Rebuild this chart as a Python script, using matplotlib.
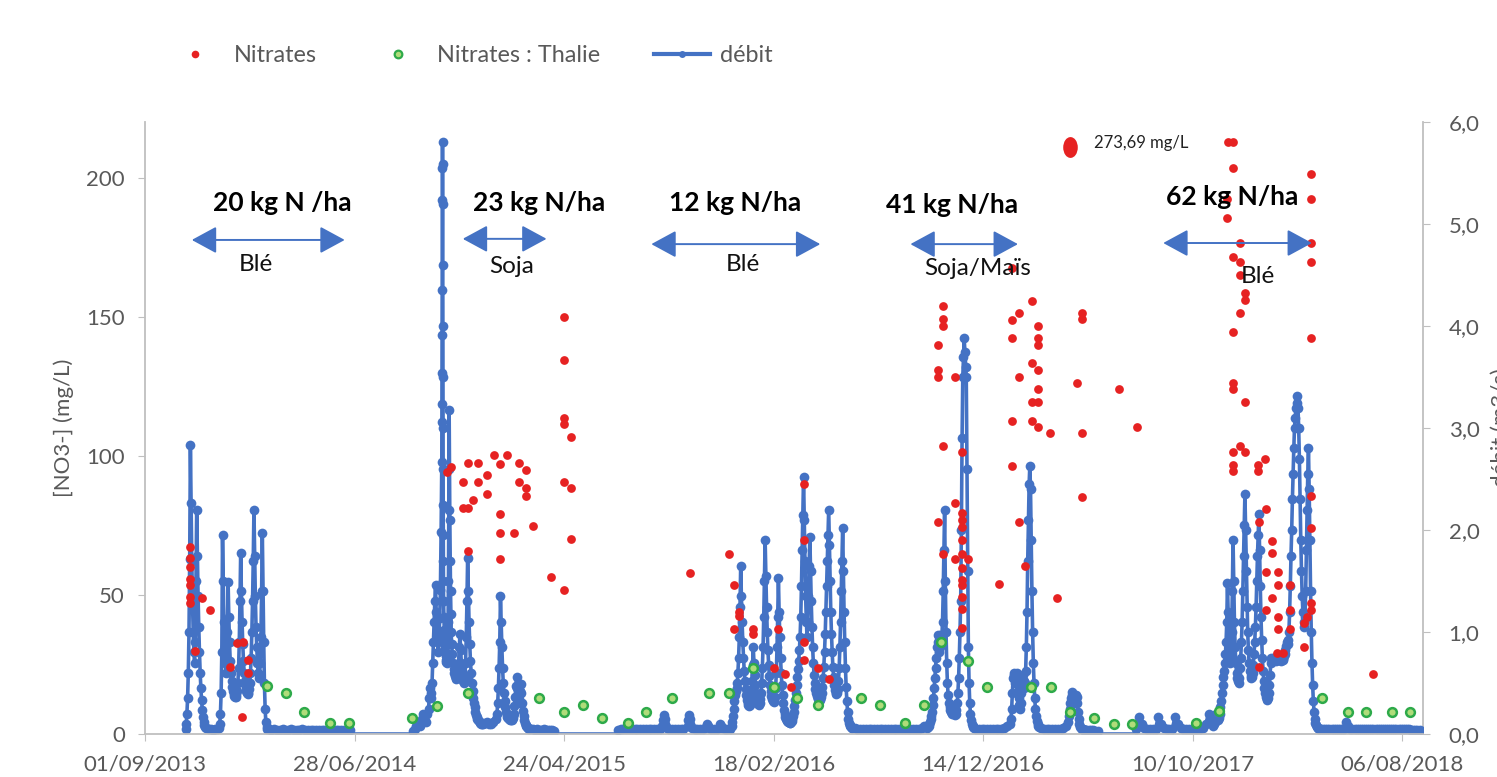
import matplotlib
matplotlib.use("Agg")
import matplotlib.pyplot as plt
import matplotlib.dates as mdates
from matplotlib.lines import Line2D
from matplotlib.path import Path
from matplotlib.transforms import Affine2D
from matplotlib.ticker import FuncFormatter
import numpy as np
import pandas as pd

plt.rcParams['font.family'] = ['Lato', 'DejaVu Sans']

# ---------------- data ----------------
# débit (m3/s): segments of (start, step in hours, values)
debit_segments = [
    ("2013-10-29", 24, [0.05, 0.1, 0.2, 0.35, 0.6, 1.0, 1.72, 2.83, 2.26, 1.7, 1.3, 1.0, 0.8, 0.7, 0.9,
                        1.5, 2.2, 1.75, 1.35, 1.05, 0.8, 0.6, 0.45, 0.33, 0.24, 0.17, 0.12, 0.09, 0.07]),
    ("2013-11-28", 72, [0.06, 0.05, 0.05, 0.04, 0.05, 0.05, 0.06]),
    ("2013-12-17", 24, [0.1, 0.2, 0.4, 0.8, 1.95, 1.5, 1.1, 0.85, 0.7, 0.6, 0.7, 1.0, 1.49, 1.15, 0.9, 0.72,
                        0.6, 0.52, 0.46, 0.42, 0.39, 0.37, 0.36, 0.36, 0.38, 0.42, 0.5, 0.65, 0.9, 1.3, 1.77,
                        1.4, 1.1, 0.88, 0.72, 0.6, 0.52, 0.46, 0.42, 0.4, 0.39, 0.4, 0.44, 0.5, 0.6, 0.75,
                        1.0, 1.3, 1.7, 2.2, 1.75, 1.35, 1.05, 0.85, 0.7, 0.6, 0.55, 0.58, 0.7, 0.95, 1.4,
                        1.97, 1.4, 0.9, 0.5, 0.25, 0.12, 0.07, 0.05]),
    ("2014-02-25", 96, [0.05, 0.04, 0.05, 0.04, 0.04, 0.05, 0.04, 0.04, 0.05, 0.04, 0.04, 0.04, 0.05, 0.04,
                        0.04, 0.04, 0.04, 0.04, 0.04, 0.04, 0.04, 0.04, 0.04, 0.04, 0.04, 0.04, 0.04, 0.04,
                        0.04, 0.04]),
    ("2014-06-24", 2088, [0.0, 0.0]),
    ("2014-09-20", 48, [0.03, 0.05, 0.08, 0.12, 0.1, 0.08, 0.15, 0.2, 0.16, 0.12, 0.2]),
    ("2014-10-12", 24, [0.25, 0.35, 0.45, 0.4, 0.35, 0.5, 0.7, 0.9, 1.1, 1.3, 1.46, 1.2, 1.0, 0.9, 0.8,
                        0.95, 1.14, 1.41, 1.98]),
    ("2014-10-31", 3, [2.67, 3.06, 3.24, 3.54, 3.91, 4.35, 5.24, 5.55, 5.8, 5.59, 5.2, 4.6, 4.0, 3.5, 3.0,
                       2.6, 2.25, 1.95, 1.7, 1.5]),
    ("2014-11-02 12:00", 12, [1.3, 1.15, 1.02, 0.92, 0.85, 0.8, 0.76, 0.73, 0.71, 0.7, 0.72, 0.78, 0.9, 1.1,
                              1.5, 2.2, 3.18, 2.6, 2.1, 1.7, 1.4, 1.18, 1.0, 0.88]),
    ("2014-11-15", 24, [0.78, 0.7, 0.64, 0.6, 0.57, 0.55, 0.54, 0.55, 0.6, 0.7, 0.85, 0.98, 0.82, 0.7, 0.62,
                        0.56, 0.52, 0.5, 0.55, 0.7, 0.95, 1.3, 1.73, 1.4, 1.1, 0.88, 0.72, 0.6, 0.5, 0.42,
                        0.35, 0.3, 0.26, 0.22, 0.19, 0.17, 0.15, 0.14, 0.13, 0.12, 0.11, 0.1, 0.1]),
    ("2014-12-29", 72, [0.1, 0.11, 0.12, 0.1, 0.1, 0.12, 0.15]),
    ("2015-01-18", 24, [0.2, 0.3, 0.45, 0.65, 0.9, 1.35, 1.1, 0.85, 0.65, 0.5, 0.4, 0.32, 0.26, 0.22, 0.19,
                        0.17, 0.16, 0.15, 0.15, 0.14, 0.14, 0.14, 0.15, 0.16, 0.2, 0.27, 0.36, 0.47, 0.56,
                        0.45, 0.36, 0.3, 0.34, 0.42, 0.49, 0.4, 0.3, 0.23, 0.18, 0.14, 0.11, 0.09, 0.08,
                        0.07, 0.06, 0.06, 0.05]),
    ("2015-03-08", 72, [0.05, 0.05, 0.04, 0.05, 0.04, 0.04, 0.05, 0.04, 0.04, 0.04, 0.04, 0.03]),
    ("2015-04-14", 2064, [0.0, 0.0]),
    ("2015-07-10", 96, [0.04, 0.05, 0.05, 0.05, 0.05, 0.05, 0.05, 0.05, 0.05, 0.05, 0.05, 0.05, 0.05, 0.05,
                        0.05, 0.05]),
    ("2015-09-12", 24, [0.08, 0.14, 0.19, 0.15, 0.1, 0.07, 0.06]),
    ("2015-09-22", 96, [0.05, 0.05, 0.05, 0.05, 0.05, 0.05]),
    ("2015-10-18", 24, [0.08, 0.14, 0.19, 0.15, 0.1, 0.07, 0.06]),
    ("2015-10-28", 96, [0.05, 0.05, 0.05, 0.05]),
    ("2015-11-14", 24, [0.07, 0.1, 0.08, 0.06]),
    ("2015-11-21", 96, [0.05, 0.05, 0.05]),
    ("2015-12-03", 24, [0.07, 0.1, 0.08, 0.06]),
    ("2015-12-10", 96, [0.05, 0.05, 0.05]),
    ("2015-12-20", 24, [0.08, 0.12, 0.18, 0.25, 0.32, 0.38, 0.42, 0.45, 0.5, 0.6, 0.75, 0.95, 1.25, 1.65,
                        1.35, 1.1, 0.9, 0.75, 0.62, 0.52, 0.44, 0.38, 0.33, 0.3, 0.28, 0.27, 0.28, 0.32, 0.4,
                        0.52, 0.68, 0.85, 0.7, 0.58, 0.48, 0.4, 0.35, 0.31, 0.29, 0.28, 0.3, 0.34, 0.4, 0.5,
                        0.65, 0.85, 1.15, 1.5, 1.9, 1.55, 1.25, 1.0, 0.82, 0.68, 0.57, 0.48, 0.42, 0.37,
                        0.34, 0.32, 0.31, 0.32, 0.36, 0.45, 0.6, 0.85, 1.15, 1.53, 1.2, 0.95, 0.75, 0.6,
                        0.48, 0.38, 0.3, 0.24, 0.2, 0.17, 0.15, 0.14, 0.13, 0.12, 0.12, 0.11, 0.11, 0.12,
                        0.13, 0.15, 0.18, 0.22, 0.27, 0.33, 0.4, 0.48, 0.56, 0.64, 0.72, 0.82, 0.95, 1.15,
                        1.45, 1.8, 2.15, 2.52, 2.1, 1.7, 1.35, 1.1, 0.95, 1.1, 1.35, 1.65, 1.93, 1.6, 1.3,
                        1.05, 0.85, 0.7, 0.58, 0.5, 0.44, 0.4, 0.37, 0.35, 0.34, 0.33, 0.33, 0.34, 0.36,
                        0.4, 0.46, 0.55, 0.66, 0.8, 0.98, 1.2, 1.45, 1.7, 1.95, 2.2, 1.85, 1.5, 1.2, 0.98,
                        0.8, 0.66, 0.56, 0.48, 0.43, 0.4, 0.39, 0.4, 0.44, 0.52, 0.65, 0.85, 1.1, 1.4, 1.7,
                        2.02, 1.6, 1.2, 0.9, 0.65, 0.46, 0.32, 0.22, 0.15, 0.11, 0.09, 0.08, 0.07, 0.06,
                        0.06]),
    ("2016-06-13", 96, [0.06, 0.05, 0.05, 0.05, 0.05, 0.05, 0.05, 0.05, 0.05, 0.05, 0.05, 0.05, 0.05, 0.05,
                        0.05, 0.05, 0.05, 0.05, 0.05, 0.05, 0.05, 0.05, 0.05, 0.05, 0.06, 0.08]),
    ("2016-09-25", 24, [0.06, 0.07, 0.08, 0.1, 0.12, 0.15, 0.18, 0.22, 0.28, 0.35, 0.45, 0.55, 0.65, 0.75,
                        0.85, 0.97, 0.9, 0.8, 0.85, 0.97, 0.9, 0.95, 1.1, 1.4, 1.8, 2.2, 1.5, 1.0, 0.7, 0.5,
                        0.38, 0.3, 0.26, 0.24, 0.22, 0.2, 0.22, 0.24, 0.22, 0.2, 0.19, 0.2, 0.24, 0.3, 0.4,
                        0.55, 0.75, 1.0, 1.3, 2.0, 2.9, 3.5, 3.7, 3.88, 3.75, 3.6, 3.5, 2.6, 1.6, 0.85, 0.5,
                        0.3, 0.2, 0.14, 0.1, 0.08, 0.07, 0.06]),
    ("2016-12-04", 96, [0.05, 0.05, 0.05, 0.05, 0.05, 0.05, 0.05, 0.05, 0.05, 0.05, 0.06, 0.08, 0.1]),
    ("2017-01-23", 24, [0.15, 0.25, 0.4, 0.55, 0.6, 0.58, 0.5, 0.55, 0.6, 0.52, 0.42, 0.35, 0.28, 0.25, 0.3,
                        0.4, 0.5, 0.58, 0.52, 0.45, 0.5, 0.62, 0.85, 1.2, 1.7, 2.1, 2.45, 2.63, 2.4, 1.9,
                        1.4, 1.0, 0.7, 0.5, 0.35, 0.25, 0.18, 0.13, 0.1, 0.08, 0.07]),
    ("2017-03-07", 96, [0.06, 0.05, 0.05, 0.05, 0.05, 0.05, 0.05, 0.05, 0.06, 0.08]),
    ("2017-04-15", 24, [0.12, 0.18, 0.25, 0.3, 0.35, 0.38, 0.41, 0.38, 0.33, 0.3, 0.34, 0.38, 0.36, 0.3,
                        0.22, 0.15, 0.1, 0.07, 0.06, 0.05, 0.05, 0.05, 0.04, 0.04, 0.04, 0.04, 0.04, 0.03]),
    ("2017-05-15", 72, [0.04, 0.04, 0.04, 0.03, 0.03]),
    ("2017-05-29", 1224, [0.0, 0.0]),
    ("2017-07-21", 96, [0.05, 0.17, 0.1, 0.06, 0.05, 0.05, 0.05, 0.05, 0.17, 0.1, 0.06, 0.05, 0.05, 0.05,
                        0.17, 0.1, 0.06, 0.05, 0.05, 0.05, 0.05, 0.05, 0.05, 0.05, 0.06, 0.1, 0.2, 0.15]),
    ("2017-11-09", 24, [0.08, 0.1, 0.12, 0.15, 0.2, 0.18, 0.15, 0.14, 0.16, 0.2, 0.26, 0.32, 0.4, 0.48,
                        0.56, 0.62, 0.7, 0.78, 0.9, 1.1, 1.48, 1.2, 0.9, 0.75, 0.7, 0.8, 1.0, 1.4, 1.9, 1.5,
                        1.1, 0.85, 0.7, 0.6, 0.55, 0.52, 0.5, 0.55, 0.65, 0.75, 0.9, 1.1, 1.4, 1.75, 2.05,
                        2.35, 2.0, 1.6, 1.25, 1.0, 0.82, 0.7, 0.62, 0.57, 0.55, 0.56, 0.6, 0.68, 0.78, 0.9,
                        1.05, 1.25, 1.5, 1.75, 1.95, 2.16, 1.8, 1.45, 1.15, 0.92, 0.75, 0.62, 0.52, 0.45,
                        0.4, 0.36, 0.34, 0.33, 0.35, 0.4, 0.48, 0.58, 0.7, 0.75, 0.74, 0.75, 0.73, 0.75,
                        0.74, 0.72, 0.75, 0.74, 0.75, 0.73, 0.74, 0.75, 0.72, 0.74, 0.75, 0.73, 0.74, 0.76,
                        0.78, 0.82, 0.86, 0.9, 0.88, 0.92, 1.0, 1.2, 1.45, 1.75, 2.0, 2.3, 2.55, 2.8, 3.0,
                        3.1, 3.2, 3.25, 3.31, 3.2, 3.0, 2.7, 2.3, 1.9, 1.6, 1.35, 1.2, 1.1, 1.05, 1.15, 1.4,
                        1.8, 2.2, 2.55, 2.8, 2.4, 1.9, 1.4, 1.0, 0.7, 0.48, 0.32, 0.22, 0.15, 0.11, 0.09,
                        0.07, 0.06, 0.06, 0.05]),
    ("2018-04-12", 72, [0.05, 0.05, 0.05, 0.05, 0.05, 0.05, 0.05, 0.05, 0.05, 0.05, 0.05, 0.05, 0.12, 0.08,
                        0.05, 0.05, 0.05, 0.05, 0.05, 0.05, 0.05, 0.05, 0.05, 0.05, 0.05, 0.05, 0.05, 0.05,
                        0.05, 0.05, 0.05, 0.05, 0.05, 0.05, 0.05, 0.05, 0.05, 0.05, 0.05, 0.05, 0.05, 0.05,
                        0.05, 0.04, 0.04, 0.04, 0.04, 0.04]),
]

# nitrates (mg/L), several samples can share a date
nitrate_dates = ["2013-11-05", "2013-11-12", "2013-11-22", "2013-12-03", "2013-12-31", "2014-01-11",
                 "2014-01-18", "2014-01-19", "2014-01-26",
                 "2014-11-08", "2014-11-13", "2014-11-30", "2014-12-08", "2014-12-15", "2014-12-22",
                 "2015-01-04", "2015-01-14", "2015-01-23", "2015-02-01", "2015-02-11", "2015-02-18",
                 "2015-02-28", "2015-03-10", "2015-04-05", "2015-04-24", "2015-05-04",
                 "2015-10-21", "2015-12-16", "2015-12-23", "2015-12-31", "2016-01-19", "2016-02-18",
                 "2016-02-25", "2016-03-06", "2016-03-14", "2016-04-01", "2016-04-21", "2016-05-07",
                 "2016-10-10", "2016-10-17", "2016-11-04", "2016-11-14", "2016-11-23", "2017-01-06",
                 "2017-01-24", "2017-02-03", "2017-02-12", "2017-02-22", "2017-03-02", "2017-03-20",
                 "2017-03-30", "2017-04-27", "2017-05-04", "2017-06-27", "2017-07-22",
                 "2017-11-29", "2017-11-30", "2017-12-07", "2017-12-17", "2017-12-24", "2018-01-12",
                 "2018-01-13", "2018-01-22", "2018-01-23", "2018-02-01", "2018-02-08", "2018-02-10",
                 "2018-02-17", "2018-02-27", "2018-03-18", "2018-03-23", "2018-03-28", "2018-06-26"]
nitrate_values = [[67.2, 63.3, 60.0, 55.7, 53.6, 49.2, 47.0], [30.0], [49.0], [44.6], [24.0], [32.7],
                  [6.0], [33.0], [26.6, 22.0],
                  [94.2], [96.0], [90.6, 81.2], [97.4, 81.2, 65.8], [84.0], [97.4, 90.6],
                  [93.0, 86.3], [100.3], [97.0, 79.0, 72.3, 63.0], [100.3], [72.3], [97.4, 90.6],
                  [95.0, 88.4, 85.5], [74.8], [56.4], [150.0, 134.4, 113.6, 111.4, 90.6, 51.8],
                  [106.8, 88.4, 70.0],
                  [57.9], [64.7], [53.6, 37.7], [43.9, 42.5], [37.7, 36.0], [23.7],
                  [37.7], [21.6], [17.0], [89.9, 69.7, 33.0, 26.6], [23.7], [19.8],
                  [139.8, 130.8, 128.3, 76.2], [153.8, 149.2, 146.7, 103.5, 64.7], [128.3, 83.0, 63.0],
                  [101.4, 79.4, 77.0, 74.5, 69.7, 64.7, 59.7, 55.4, 53.6, 49.2, 45.0, 38.1], [63.0], [54.0],
                  [167.5, 148.8, 142.3, 112.5, 96.3], [151.3, 128.3, 76.2], [60.4],
                  [155.6, 133.4, 119.3, 112.5], [146.7, 142.3, 139.8, 130.8, 124.0, 119.3, 110.4], [108.2],
                  [48.9], [126.2], [151.3, 149.2, 108.2, 85.2], [124.0], [110.4],
                  [192.3, 185.5], [212.8], [212.8, 203.5, 171.5, 144.5, 126.2, 124.0, 101.4, 96.7, 94.5],
                  [176.5, 169.7, 165.0, 151.3, 103.5], [158.5, 156.0, 119.3, 101.4], [96.7, 94.5],
                  [76.2, 24.0], [98.8], [80.9, 58.2, 44.6], [69.4, 65.0, 49.0], [29.0],
                  [58.2, 53.6, 42.0, 37.7],
                  [29.0], [53.6, 44.6, 37.7], [40.0, 31.3], [42.0],
                  [201.3, 192.3, 176.5, 169.7, 142.3, 85.5, 74.0, 47.0, 44.6], [21.6]]

# nitrates, Thalie samples (mg/L)
thalie_dates = ["2014-02-22", "2014-03-22", "2014-04-16", "2014-05-24", "2014-06-20", "2014-09-18",
                "2014-10-24", "2014-12-08", "2015-03-19", "2015-04-24", "2015-05-21", "2015-06-17",
                "2015-07-24", "2015-08-19", "2015-09-25", "2015-11-18", "2015-12-16", "2016-01-20",
                "2016-02-18", "2016-03-23", "2016-04-21", "2016-06-22", "2016-07-19", "2016-08-24",
                "2016-09-20", "2016-10-15", "2016-11-23", "2016-12-20", "2017-02-20", "2017-03-21",
                "2017-04-17", "2017-05-22", "2017-06-19", "2017-07-15", "2017-10-15", "2017-11-17",
                "2018-04-14", "2018-05-20", "2018-06-16", "2018-07-23", "2018-08-18"]
thalie_values = [17.3, 14.8, 7.9, 3.9, 3.9, 5.8, 10.1, 14.7, 12.9, 7.9, 10.4, 5.8, 3.9, 7.9, 12.9,
                 14.7, 14.7, 23.7, 17.0, 12.9, 10.4, 12.9, 10.4, 3.9, 10.4, 33.0, 26.2, 17.0, 17.0,
                 17.0, 7.9, 5.8, 3.6, 3.6, 3.9, 8.3, 12.9, 7.9, 7.9, 7.9, 7.9]

# off-scale sample
outlier_date = "2017-04-18"
outlier_value = 273.69
outlier_shown_at = 211

# fertilisation periods
doses = ["20 kg N /ha", "23 kg N/ha", "12 kg N/ha", "41 kg N/ha", "62 kg N/ha"]
crops = ["Blé", "Soja", "Blé", "Soja/Maïs", "Blé"]
period_start = ["2013-11-07", "2014-11-30", "2015-08-27", "2016-09-01", "2017-08-29"]
period_end = ["2014-06-14", "2015-03-30", "2016-04-25", "2017-02-02", "2018-03-30"]
dose_label_x = ["2014-03-16", "2015-03-20", "2015-12-25", "2016-10-30", "2017-12-06"]
crop_label_x = ["2014-02-07", "2015-02-08", "2016-01-05", "2016-12-07", "2018-01-12"]

tick_dates = ["2013-09-01", "2014-06-28", "2015-04-24", "2016-02-18", "2016-12-14", "2017-10-10",
              "2018-08-06"]

# ---------------- build series ----------------
deb_t, deb_v = [], []
for start, step, values in debit_segments:
    deb_t.extend(pd.date_range(start, periods=len(values), freq=f"{step}h"))
    deb_v.extend(values)
deb_t = pd.DatetimeIndex(deb_t)
deb_v = np.array(deb_v)

nit_t, nit_v = [], []
for d, vals in zip(nitrate_dates, nitrate_values):
    for v in vals:
        nit_t.append(pd.Timestamp(d))
        nit_v.append(v)

RED = '#E62222'
BLUE = '#4472C4'
GREEN_EDGE = '#2EAA4A'
GREEN_FACE = '#B0DC7A'
GREY = '#595959'
AXIS = '#BFBFBF'

# ---------------- plot ----------------
fig = plt.figure(figsize=(14.97, 7.77), dpi=100)
ax = fig.add_axes([145 / 1497, 43 / 777, 1278 / 1497, 612 / 777])
ax2 = ax.twinx()

ax2.plot(deb_t, deb_v, color=BLUE, lw=2.6, zorder=2)
pos = deb_v > 0
ax2.plot(deb_t[pos], deb_v[pos], 'o', ms=7, color=BLUE, mew=0, zorder=3)

ax.plot(nit_t, nit_v, 'o', ms=6.3, color=RED, mew=0, ls='none', zorder=3)
ax.plot(pd.to_datetime(thalie_dates), thalie_values, 'o', ms=6.3, mfc=GREEN_FACE, mec=GREEN_EDGE,
        mew=1.8, ls='none', zorder=4)

# off-scale value
ell = Path.unit_circle().transformed(Affine2D().scale(0.7, 1.0))
ax.plot([pd.Timestamp(outlier_date)], [outlier_shown_at], marker=ell, ms=15, color=RED, mew=0,
        ls='none', clip_on=False, zorder=4)
ax.annotate(f"{outlier_value:.2f}".replace('.', ',') + " mg/L",
            xy=(pd.Timestamp(outlier_date), outlier_shown_at), xytext=(17, 3),
            textcoords='offset points', fontsize=12, color='#222222', va='center', ha='left')

# fertilisation arrows and labels
dose_y = [191, 191, 191, 190, 193]
arrow_y = [177.6, 178, 176.1, 176.1, 176.5]
crop_y = [168.6, 168.2, 168.6, 167.5, 164.6]
for i in range(len(doses)):
    ax.annotate('', xy=(pd.Timestamp(period_end[i]), arrow_y[i]),
                xytext=(pd.Timestamp(period_start[i]), arrow_y[i]),
                arrowprops=dict(arrowstyle='<|-|>,head_length=0.7,head_width=0.38', color=BLUE,
                                lw=1.4, mutation_scale=22, shrinkA=0, shrinkB=0), zorder=5)
    ax.text(pd.Timestamp(dose_label_x[i]), dose_y[i], doses[i], fontsize=19, fontweight='bold',
            ha='center', va='center', color='black', zorder=6)
    ax.text(pd.Timestamp(crop_label_x[i]), crop_y[i], crops[i], fontsize=17.5, ha='center',
            va='center', color='#111111', zorder=6)

# axes
ax.set_xlim(pd.Timestamp("2013-09-01"), pd.Timestamp("2018-09-05"))
ax.set_ylim(0, 220)
ax2.set_ylim(0, 6)
ax.set_yticks([0, 50, 100, 150, 200])
ax2.set_yticks([0, 1, 2, 3, 4, 5, 6])
ax2.yaxis.set_major_formatter(FuncFormatter(lambda v, p: f"{v:.1f}".replace('.', ',')))
ax.set_xticks(pd.to_datetime(tick_dates))
ax.xaxis.set_major_formatter(mdates.DateFormatter('%d/%m/%Y'))

ax.set_zorder(ax2.get_zorder() + 1)
ax.patch.set_visible(False)

for s in ['top', 'right']:
    ax.spines[s].set_visible(False)
for s in ['top', 'left', 'bottom']:
    ax2.spines[s].set_visible(False)
for s in ['left', 'bottom']:
    ax.spines[s].set_color(AXIS)
    ax.spines[s].set_linewidth(1.3)
ax2.spines['right'].set_color(AXIS)
ax2.spines['right'].set_linewidth(1.3)

ax.tick_params(axis='y', direction='out', length=5, color=AXIS, labelcolor=GREY, labelsize=16, pad=9.5)
ax.tick_params(axis='x', direction='out', length=5, color=AXIS, labelcolor=GREY, labelsize=16, pad=10)
ax2.tick_params(axis='y', direction='out', length=5, color=AXIS, labelcolor=GREY, labelsize=16, pad=13.5)

ax.set_ylabel('[NO3-] (mg/L)', fontsize=16, color=GREY, labelpad=9)
ax2.set_ylabel('débit (m3/s)', fontsize=16, color=GREY, labelpad=8, rotation=90)

# legend
handles = [Line2D([], [], ls='none', marker='o', ms=5.5, color=RED, mew=0),
           Line2D([], [], ls='none', marker='o', ms=5.5, mfc=GREEN_FACE, mec=GREEN_EDGE, mew=1.6),
           Line2D([], [], color=BLUE, lw=3, marker='o', ms=5, mew=0)]
fig.legend(handles, ['Nitrates', 'Nitrates : Thalie', 'débit'], loc='center',
           bbox_to_anchor=(0.314, 0.929), ncol=3, frameon=False, fontsize=16.8, handlelength=2.4,
           handletextpad=0.45, columnspacing=2.3, labelcolor=GREY)

fig.savefig('out.png', dpi=100)
